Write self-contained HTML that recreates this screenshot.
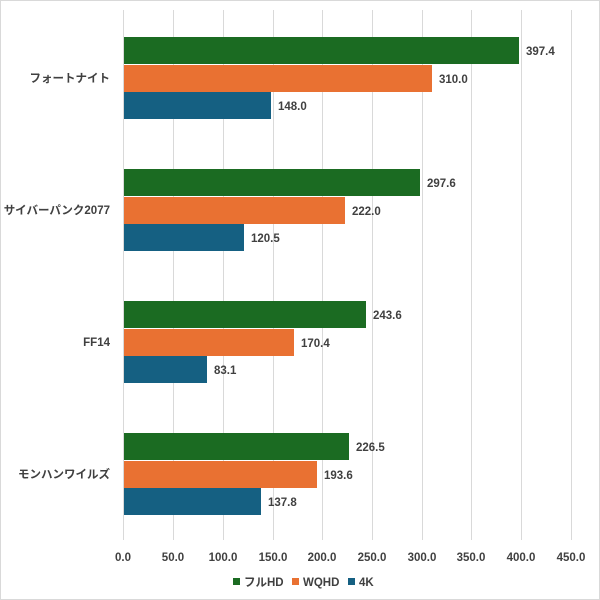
<!DOCTYPE html>
<html><head><meta charset="utf-8"><style>
html,body{margin:0;padding:0;background:#fff}
svg{display:block}
text{font-family:"Liberation Sans","Noto Sans CJK JP",sans-serif;fill:#404040;font-weight:bold}
</style></head><body>
<svg width="600" height="600" viewBox="0 0 600 600" xmlns="http://www.w3.org/2000/svg">
<rect x="0.5" y="0.5" width="599" height="599" fill="#fff" stroke="#d9d9d9"/>
<g stroke="#d9d9d9" stroke-width="1">
<line x1="123.5" y1="10" x2="123.5" y2="540"/>
<line x1="173.5" y1="10" x2="173.5" y2="540"/>
<line x1="223.5" y1="10" x2="223.5" y2="540"/>
<line x1="273.5" y1="10" x2="273.5" y2="540"/>
<line x1="322.5" y1="10" x2="322.5" y2="540"/>
<line x1="372.5" y1="10" x2="372.5" y2="540"/>
<line x1="422.5" y1="10" x2="422.5" y2="540"/>
<line x1="471.5" y1="10" x2="471.5" y2="540"/>
<line x1="521.5" y1="10" x2="521.5" y2="540"/>
<line x1="571.5" y1="10" x2="571.5" y2="540"/>
</g>
<g font-size="11.5" text-anchor="middle">
<text x="123" y="561">0.0</text><text x="173" y="561">50.0</text><text x="223" y="561">100.0</text>
<text x="273" y="561">150.0</text><text x="322" y="561">200.0</text><text x="372" y="561">250.0</text>
<text x="422" y="561">300.0</text><text x="471" y="561">350.0</text><text x="521" y="561">400.0</text>
<text x="571" y="561">450.0</text>
</g>
<g font-size="11.5" text-anchor="end">
<text x="110" y="82">フォートナイト</text>
<text x="110" y="214">サイバーパンク2077</text>
<text x="110" y="346">FF14</text>
<text x="110" y="478">モンハンワイルズ</text>
</g>
<!-- bars: x = 124 + v*0.9944 -->
<g>
<rect x="124" y="37" width="395" height="27" fill="#1b6b22"/>
<rect x="124" y="65" width="308" height="27" fill="#e97132"/>
<rect x="124" y="92" width="147" height="27" fill="#156082"/>
<rect x="124" y="169" width="296" height="27" fill="#1b6b22"/>
<rect x="124" y="197" width="221" height="27" fill="#e97132"/>
<rect x="124" y="224" width="120" height="27" fill="#156082"/>
<rect x="124" y="301" width="242" height="27" fill="#1b6b22"/>
<rect x="124" y="329" width="170" height="27" fill="#e97132"/>
<rect x="124" y="356" width="83" height="27" fill="#156082"/>
<rect x="124" y="433" width="225" height="27" fill="#1b6b22"/>
<rect x="124" y="461" width="193" height="27" fill="#e97132"/>
<rect x="124" y="488" width="137" height="27" fill="#156082"/>
</g>
<g font-size="11.5">
<text x="526" y="55">397.4</text><text x="439" y="83">310.0</text><text x="278" y="110">148.0</text>
<text x="427" y="187">297.6</text><text x="352" y="215">222.0</text><text x="251" y="242">120.5</text>
<text x="373" y="319">243.6</text><text x="301" y="347">170.4</text><text x="214" y="374">83.1</text>
<text x="356" y="451">226.5</text><text x="324" y="479">193.6</text><text x="268" y="506">137.8</text>
</g>
<g font-size="11.5">
<rect x="233" y="578" width="7" height="7" fill="#1b6b22"/><text x="244" y="586">フルHD</text>
<rect x="292" y="578" width="7" height="7" fill="#e97132"/><text x="303" y="586">WQHD</text>
<rect x="348" y="578" width="7" height="7" fill="#156082"/><text x="359" y="586">4K</text>
</g>
</svg>
</body></html>
